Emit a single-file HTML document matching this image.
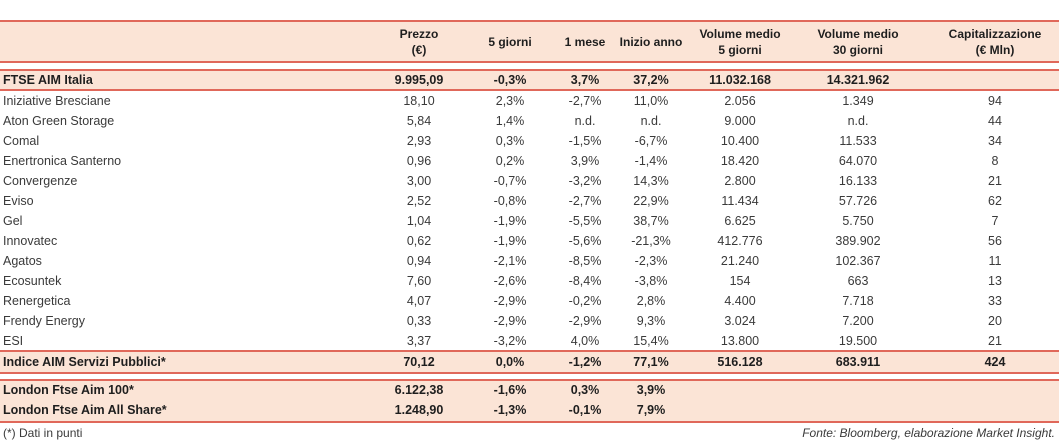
<!DOCTYPE html>
<html><head><meta charset="utf-8">
<style>
body{margin:0;width:1061px;height:443px;background:#fff;position:relative;overflow:hidden;font-family:"Liberation Sans",sans-serif;color:#3a3a3a}
.band{position:absolute;left:0;width:1059px;background:#fbe4d6}
.line{position:absolute;left:0;width:1059px;height:2px;background:#e0685a}
.t{position:absolute;font-size:12.5px;white-space:nowrap;transform:translate(-50%,-50%);text-align:center}
.n{position:absolute;left:3px;font-size:12.5px;transform:translateY(-50%);white-space:nowrap}
.b{font-weight:bold;color:#1e1e1e}
.h{font-weight:bold;font-size:12px;line-height:16px;color:#1e1e1e}
</style></head><body>
<div class="band" style="top:21px;height:42px"></div>
<div class="band" style="top:70px;height:20px"></div>
<div class="band" style="top:351px;height:22px"></div>
<div class="band" style="top:380px;height:42px"></div>
<div class="line" style="top:20px"></div>
<div class="line" style="top:61px"></div>
<div class="line" style="top:69px"></div>
<div class="line" style="top:89px"></div>
<div class="line" style="top:350px"></div>
<div class="line" style="top:372px"></div>
<div class="line" style="top:379px"></div>
<div class="line" style="top:421px"></div>
<div class="n" style="top:433px;font-size:12px">(*) Dati in punti</div>
<div style="position:absolute;right:6px;top:426px;font-size:12px;font-style:italic">Fonte: Bloomberg, elaborazione Market Insight.</div>
<script>
const cols=[419,510,585,651,740,858,995];
const headers=["Prezzo<br>(€)","5 giorni","1 mese","Inizio anno","Volume medio<br>5 giorni","Volume medio<br>30 giorni","Capitalizzazione<br>(€ Mln)"];
const rows=[
["FTSE AIM Italia",80,true,["9.995,09","-0,3%","3,7%","37,2%","11.032.168","14.321.962",""]],
["Iniziative Bresciane",101,false,["18,10","2,3%","-2,7%","11,0%","2.056","1.349","94"]],
["Aton Green Storage",121,false,["5,84","1,4%","n.d.","n.d.","9.000","n.d.","44"]],
["Comal",141,false,["2,93","0,3%","-1,5%","-6,7%","10.400","11.533","34"]],
["Enertronica Santerno",161,false,["0,96","0,2%","3,9%","-1,4%","18.420","64.070","8"]],
["Convergenze",181,false,["3,00","-0,7%","-3,2%","14,3%","2.800","16.133","21"]],
["Eviso",201,false,["2,52","-0,8%","-2,7%","22,9%","11.434","57.726","62"]],
["Gel",221,false,["1,04","-1,9%","-5,5%","38,7%","6.625","5.750","7"]],
["Innovatec",241,false,["0,62","-1,9%","-5,6%","-21,3%","412.776","389.902","56"]],
["Agatos",261,false,["0,94","-2,1%","-8,5%","-2,3%","21.240","102.367","11"]],
["Ecosuntek",281,false,["7,60","-2,6%","-8,4%","-3,8%","154","663","13"]],
["Renergetica",301,false,["4,07","-2,9%","-0,2%","2,8%","4.400","7.718","33"]],
["Frendy Energy",321,false,["0,33","-2,9%","-2,9%","9,3%","3.024","7.200","20"]],
["ESI",341,false,["3,37","-3,2%","4,0%","15,4%","13.800","19.500","21"]],
["Indice AIM Servizi Pubblici*",362,true,["70,12","0,0%","-1,2%","77,1%","516.128","683.911","424"]],
["London Ftse Aim 100*",390,true,["6.122,38","-1,6%","0,3%","3,9%","","",""]],
["London Ftse Aim All Share*",410,true,["1.248,90","-1,3%","-0,1%","7,9%","","",""]]
];
headers.forEach((h,i)=>{
 const d=document.createElement('div');
 d.className='t h';d.style.left=cols[i]+'px';d.style.top='42px';d.innerHTML=h;
 
 
 document.body.appendChild(d);
});
rows.forEach(r=>{
 const n=document.createElement('div');
 n.className='n'+(r[2]?' b':'');n.style.top=r[1]+'px';n.textContent=r[0];
 
 
 document.body.appendChild(n);
 r[3].forEach((v,i)=>{
  if(!v)return;
  const c=document.createElement('div');
  c.className='t'+(r[2]?' b':'');c.style.left=cols[i]+'px';c.style.top=r[1]+'px';c.textContent=v;
  
  
  document.body.appendChild(c);
 });
});
</script>
</body></html>
